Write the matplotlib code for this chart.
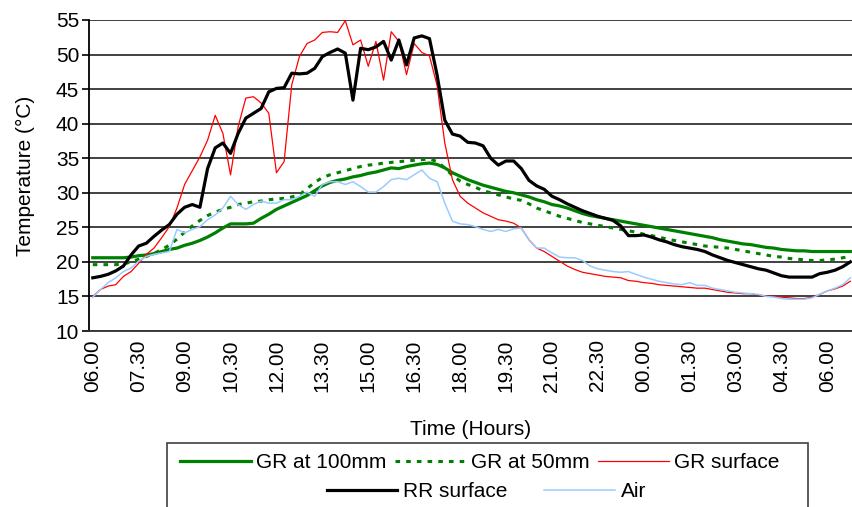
import numpy as np
import matplotlib
matplotlib.use('Agg')
import matplotlib.pyplot as plt
from matplotlib.patches import Rectangle

plt.rcParams['font.family'] = ['Liberation Sans', 'DejaVu Sans']

# readings every 15 minutes, starting 06.00
gr_100mm = [20.6, 20.6, 20.6, 20.6, 20.6, 20.7, 20.9, 21.0, 21.2, 21.5,
            21.8, 22.0, 22.4, 22.7, 23.1, 23.6, 24.2, 24.9, 25.5, 25.5,
            25.5, 25.6, 26.3, 26.9, 27.6, 28.1, 28.6, 29.1, 29.6, 30.3,
            31.0, 31.5, 31.8, 32.0, 32.3, 32.5, 32.8, 33.0, 33.3, 33.6,
            33.5, 33.8, 34.0, 34.2, 34.3, 34.1, 33.6, 32.9, 32.4, 31.9,
            31.5, 31.1, 30.8, 30.5, 30.2, 30.0, 29.7, 29.4, 29.0, 28.7,
            28.3, 28.1, 27.8, 27.4, 27.0, 26.7, 26.5, 26.3, 26.1, 25.9,
            25.7, 25.5, 25.3, 25.1, 24.9, 24.7, 24.5, 24.3, 24.1, 23.9,
            23.7, 23.5, 23.2, 23.0, 22.8, 22.6, 22.5, 22.3, 22.1, 22.0,
            21.8, 21.7, 21.6, 21.6, 21.5, 21.5, 21.5, 21.5, 21.5, 21.5]

gr_50mm = [19.6, 19.6, 19.6, 19.6, 19.7, 20.0, 20.4, 20.8, 21.2, 21.8,
           22.4, 23.3, 24.3, 25.2, 26.0, 26.7, 27.2, 27.6, 27.9, 28.3,
           28.5, 28.7, 28.8, 29.0, 29.1, 29.2, 29.4, 29.7, 30.6, 31.5,
           32.2, 32.6, 32.9, 33.2, 33.5, 33.8, 34.0, 34.1, 34.3, 34.4,
           34.5, 34.6, 34.7, 34.8, 34.9, 34.5, 33.6, 32.5, 31.7, 31.2,
           30.8, 30.3, 30.0, 29.7, 29.4, 29.1, 28.9, 28.4, 27.8, 27.4,
           27.0, 26.6, 26.3, 26.0, 25.7, 25.5, 25.3, 25.1, 24.9, 24.7,
           24.5, 24.3, 24.0, 23.8, 23.6, 23.3, 23.1, 22.9, 22.7, 22.5,
           22.3, 22.2, 22.1, 22.0, 21.8, 21.6, 21.4, 21.2, 21.0, 20.8,
           20.7, 20.5, 20.4, 20.3, 20.2, 20.2, 20.3, 20.4, 20.6, 20.8]

gr_surface = [15.0, 16.0, 16.5, 16.7, 17.9, 18.6, 19.8, 21.1, 22.0, 23.5,
              25.1, 27.8, 31.2, 33.2, 35.2, 37.6, 41.2, 38.6, 32.6, 39.6,
              43.7, 43.9, 43.0, 41.5, 32.9, 34.5, 45.6, 49.7, 51.6, 52.1,
              53.2, 53.3, 53.2, 54.9, 51.4, 52.1, 48.3, 51.9, 46.3, 53.3,
              51.9, 47.1, 51.6, 50.3, 49.8, 45.5, 37.2, 31.9, 29.5, 28.5,
              27.8, 27.1, 26.6, 26.1, 25.9, 25.6, 24.9, 23.2, 22.0, 21.5,
              20.8, 20.1, 19.4, 18.9, 18.5, 18.3, 18.1, 17.9, 17.8, 17.7,
              17.3, 17.2, 17.0, 16.9, 16.7, 16.6, 16.5, 16.4, 16.3, 16.2,
              16.2, 16.0, 15.8, 15.6, 15.5, 15.4, 15.4, 15.2, 15.1, 15.0,
              14.9, 14.8, 14.7, 14.7, 14.9, 15.3, 15.8, 16.1, 16.5, 17.2]

rr_surface = [17.7, 17.9, 18.2, 18.7, 19.4, 21.0, 22.3, 22.7, 23.7, 24.6,
              25.4, 26.9, 27.9, 28.3, 27.9, 33.5, 36.5, 37.2, 35.7, 38.6,
              40.8, 41.5, 42.2, 44.6, 45.1, 45.2, 47.3, 47.2, 47.3, 48.0,
              49.7, 50.3, 50.8, 50.2, 43.4, 50.9, 50.7, 51.1, 51.9, 49.2,
              52.1, 48.5, 52.4, 52.7, 52.3, 47.0, 40.5, 38.5, 38.2, 37.3,
              37.2, 36.8, 35.0, 34.0, 34.6, 34.6, 33.5, 31.8, 31.0, 30.5,
              29.5, 29.0, 28.4, 27.9, 27.4, 27.0, 26.6, 26.3, 26.0, 25.2,
              23.8, 23.8, 23.9, 23.6, 23.2, 22.9, 22.5, 22.2, 22.0, 21.8,
              21.5, 21.0, 20.6, 20.2, 19.9, 19.6, 19.3, 19.0, 18.8, 18.4,
              18.0, 17.8, 17.8, 17.8, 17.8, 18.3, 18.5, 18.8, 19.3, 20.0]

air = [14.9, 16.0, 17.0, 17.7, 18.6, 19.1, 20.1, 20.8, 21.1, 21.3,
       21.5, 24.7, 24.2, 24.7, 25.1, 26.1, 26.8, 27.8, 29.5, 28.3,
       27.6, 28.3, 28.8, 28.5, 28.5, 29.0, 29.0, 29.5, 30.1, 29.5,
       31.2, 31.6, 31.6, 31.2, 31.6, 30.9, 30.1, 30.1, 30.9, 31.9,
       32.1, 31.9, 32.6, 33.3, 32.1, 31.6, 28.5, 25.9, 25.5, 25.4,
       25.1, 24.7, 24.4, 24.7, 24.4, 24.8, 24.9, 23.2, 22.0, 22.0,
       21.3, 20.7, 20.6, 20.6, 20.2, 19.4, 19.0, 18.8, 18.6, 18.5,
       18.6, 18.2, 17.8, 17.5, 17.2, 17.0, 16.8, 16.7, 17.0, 16.6,
       16.6, 16.2, 16.0, 15.8, 15.6, 15.5, 15.4, 15.3, 15.0, 14.9,
       14.7, 14.6, 14.6, 14.6, 14.8, 15.3, 15.8, 16.2, 16.7, 17.7]

time_labels = ['06.00', '07.30', '09.00', '10.30', '12.00', '13.30', '15.00',
               '16.30', '18.00', '19.30', '21.00', '22.30', '00.00', '01.30',
               '03.00', '04.30', '06.00']

x = np.arange(len(rr_surface))

fig = plt.figure(figsize=(8.53, 5.07), dpi=100)
ax = fig.add_axes([0.1043, 0.3471, 0.8957, 0.6135])

l1, = ax.plot(x, gr_100mm, color='#008000', lw=2.3, label='GR at 100mm')
l2, = ax.plot(x, gr_50mm, color='#008000', lw=2.2, linestyle=(0, (1.5, 2.0)),
              label='GR at 50mm')
l3, = ax.plot(x, gr_surface, color='#ff0000', lw=0.9, label='GR surface')
l4, = ax.plot(x, rr_surface, color='black', lw=2.3, label='RR surface')
l5, = ax.plot(x, air, color='#99ccff', lw=1.1, label='Air')

ax.set_ylim(10, 55)
ax.set_xlim(-0.5, 99.35)
ax.set_yticks(range(10, 56, 5))
ax.set_xticks(np.arange(0, 6 * len(time_labels), 6))
ax.set_xticklabels(time_labels, rotation=90)
ax.tick_params(axis='y', labelsize=15, length=5, width=1.2, pad=2)
ax.tick_params(axis='x', labelsize=15, length=0, pad=6)
ax.yaxis.grid(True, color='#333333', lw=1.3)
ax.set_axisbelow(True)
for s in ['top', 'right']:
    ax.spines[s].set_visible(False)
ax.spines['left'].set_linewidth(1.3)
ax.spines['bottom'].set_linewidth(1.3)
ax.spines['bottom'].set_color('#333333')

ax.set_ylabel('Temperature (°C)', fontsize=15, labelpad=15)
ax.set_xlabel('Time (Hours)', fontsize=15, labelpad=20)

leg_kw = dict(frameon=False, fontsize=15, handlelength=3.4, handletextpad=0.25,
              loc='center', borderpad=0)
fig.legend(handles=[l1, l2, l3], ncol=3, columnspacing=0.4,
           bbox_to_anchor=(0.5625, 0.0868), **leg_kw)
fig.legend(handles=[l4, l5], ncol=2, columnspacing=1.8,
           bbox_to_anchor=(0.570, 0.0296), **leg_kw)
fig.patches.append(Rectangle((0.1958, -0.05), 0.7515, 0.1762, transform=fig.transFigure,
                             fill=False, edgecolor='#404040', lw=1.2))

fig.savefig('out.png', dpi=100)
